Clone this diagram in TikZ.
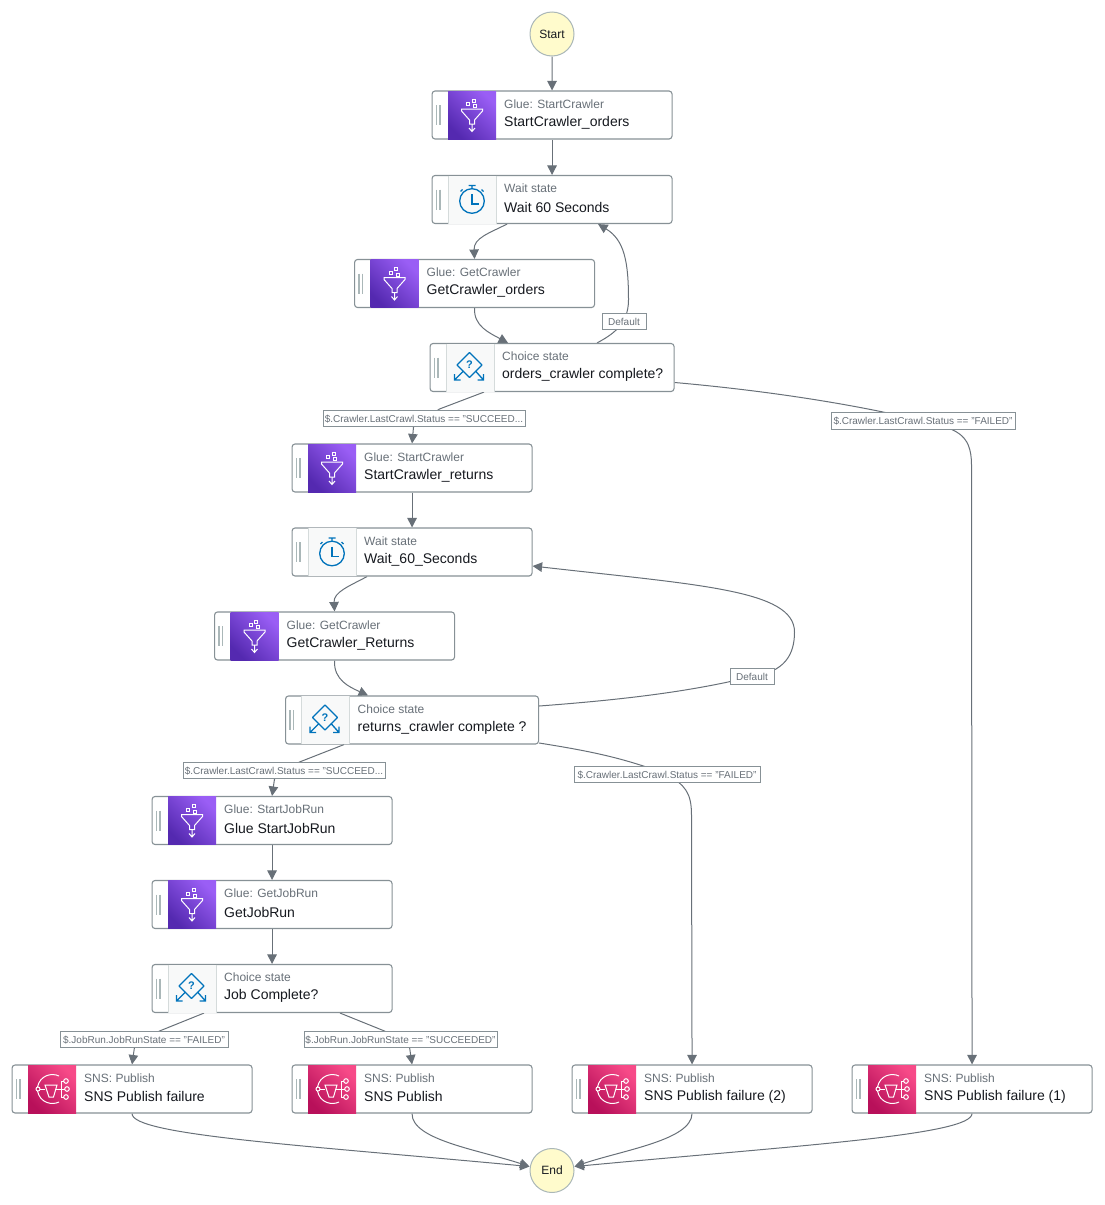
\documentclass[tikz,border=0pt]{standalone}
\usepackage{fontspec}
\setmainfont{Liberation Sans}
\usetikzlibrary{arrows.meta,calc,backgrounds}
\definecolor{lineC}{HTML}{687078}
\definecolor{boxC}{HTML}{879196}
\definecolor{titleC}{HTML}{687078}
\definecolor{mainC}{HTML}{16191F}
\definecolor{iconB}{HTML}{0073BB}
\definecolor{gripC}{HTML}{AAB7B8}
\definecolor{panelC}{HTML}{F8F9F9}
\definecolor{panelE}{HTML}{D5DBDB}
\definecolor{termF}{HTML}{FFFBCC}
\definecolor{termE}{HTML}{AAB7B8}
\definecolor{glueD}{HTML}{5429B0}
\definecolor{glueL}{HTML}{9A5EF5}
\definecolor{snsD}{HTML}{B8105A}
\definecolor{snsL}{HTML}{F74A88}
\tikzset{
  statebox/.style={draw=boxC,line width=1.1pt,rounded corners=3pt,fill=white,minimum height=48pt,inner sep=0pt,anchor=west},
  termnode/.style={circle,draw=termE,fill=termF,line width=1pt,minimum size=44pt,inner sep=0pt,font=\fontsize{12}{14}\selectfont,text=mainC},
  edgelabel/.style={draw=boxC,line width=1pt,fill=white,inner sep=0pt,minimum height=16.5pt,text depth=0pt,font=\fontsize{10}{11}\selectfont,text=titleC},
  titletext/.style={anchor=west,inner sep=0pt,font=\fontsize{12}{14}\selectfont,text=titleC},
  maintext/.style={anchor=west,inner sep=0pt,font=\fontsize{14}{16}\selectfont,text=mainC},
  conn/.style={draw=lineC,line width=1pt,-{Triangle[length=9.5pt,width=9.5pt]}},
  iconw/.style={draw=white,line width=1pt},
  iconb/.style={draw=iconB,line width=1.3pt},
}
\newcommand{\grip}{\draw[gripC,line width=1.2pt] (5,-10) -- (5,10) (8.5,-10) -- (8.5,10);}
\newcommand{\glueicon}{%
  \shade[bottom color=glueD,top color=glueL,shading angle=-45] (16.5,-24) rectangle (64.5,24);
  \begin{scope}[shift={(40.5,0)}]
    \draw[iconw] (-10.5,-6) -- (10.5,-6) -- (10.5,-4) -- (2.5,5) -- (2.5,9) -- (-2.5,9) -- (-2.5,5) -- (-10.5,-4) -- cycle;
    \draw[iconw] (0,9) -- (0,16) (-3,13) -- (0,16.5) -- (3,13);
    \draw[iconw,line width=.9pt] (-5.5,-12.5) rectangle (-2.5,-9.5) (0,-16) rectangle (3,-13) (1.5,-10.5) rectangle (4.5,-7.5);
  \end{scope}}
\newcommand{\waiticon}{%
  \fill[panelC] (16.5,-24) rectangle (64.5,24);
  \draw[panelE] (16.5,-24) -- (16.5,24) (64.5,-24) -- (64.5,24);
  \begin{scope}[shift={(40.5,1.5)}]
    \draw[iconb] (0,0) circle (12.3);
    \draw[iconb] (0,-12.5) -- (0,-15.5) (-3.5,-15.5) -- (3.5,-15.5) (9.5,-11.5) -- (11.5,-9.5);
    \draw[iconb] (-9.5,-11.5) -- (-11.5,-9.5);
    \draw[iconb] (0,-7) -- (0,3) -- (7,3);
  \end{scope}}
\newcommand{\choiceicon}{%
  \fill[panelC] (16.5,-24) rectangle (64.5,24);
  \draw[panelE] (16.5,-24) -- (16.5,24) (64.5,-24) -- (64.5,24);
  \begin{scope}[shift={(40,-2.5)}]
    \draw[iconb,line join=round] (0,-12.5) -- (12.5,0) -- (0,12.5) -- (-12.5,0) -- cycle;
    \node[inner sep=0pt,text=iconB,font=\bfseries\fontsize{11}{12}\selectfont] at (0,0) {?};
    \draw[iconb] (-6,6) -- (-15,15) (-15,9) -- (-15,15) -- (-9,15);
    \draw[iconb] (6,6) -- (14,15) (14,9) -- (14,15) -- (8,15);
  \end{scope}}
\newcommand{\snsicon}{%
  \shade[bottom color=snsD,top color=snsL,shading angle=-45] (16.5,-24) rectangle (64.5,24);
  \begin{scope}[shift={(40.5,0)}]
    \draw[iconw] (7,-13) .. controls (0,-16.5) and (-12,-14) .. (-14.5,-2);
    \draw[iconw] (-14.5,2) .. controls (-12,14) and (0,16.5) .. (7,13);
    \draw[iconw] (-14,0) circle (2);
    \draw[iconw] (-12,0) -- (-7,0);
    \draw[iconw] (-7,-4) -- (5,-4) -- (1.5,8) -- (-3,8) -- cycle;
    \draw[iconw] (4,0) -- (13,0) (9,-8) -- (12,-8) (9,8) -- (12,8) (9,-8) -- (9,8);
    \draw[iconw] (14,-8) circle (2.3) (15,0) circle (2.3) (14,8) circle (2.3);
  \end{scope}}
% name, left x, centre y, width, icon, title, text
\newcommand{\statenode}[7]{%
  \node[statebox,minimum width=#4pt] (#1) at (#2,#3) {};
  \begin{scope}[shift={(#1.west)}]
    \grip
    #5
  \end{scope}
  \node[titletext] (#1-title) at ($(#1.west)+(72.5,-11)$) {#6};
  \node[maintext] (#1-text) at ($(#1.west)+(72.5,7.5)$) {#7};}
\begin{document}
\begin{tikzpicture}[x=1pt,y=-1pt]
\useasboundingbox (0.5,0) rectangle (1104.5,1205);
\node[termnode] (start) at (552.5,34) {Start};
\node[termnode] (end) at (552.5,1170.5) {End};
\statenode{sco}{432}{115}{240}{\glueicon}{Glue: StartCrawler}{StartCrawler\_orders}
\statenode{wa}{432}{199.5}{240}{\waiticon}{Wait state}{Wait 60 Seconds}
\statenode{gco}{354.5}{283.5}{240}{\glueicon}{Glue: GetCrawler}{GetCrawler\_orders}
\statenode{cho}{430}{367.5}{244}{\choiceicon}{Choice state}{orders\_crawler complete?}
\statenode{scr}{292}{468}{240}{\glueicon}{Glue: StartCrawler}{StartCrawler\_returns}
\statenode{wb}{292}{552}{240}{\waiticon}{Wait state}{Wait\_60\_Seconds}
\statenode{gcr}{214.5}{636}{240}{\glueicon}{Glue: GetCrawler}{GetCrawler\_Returns}
\statenode{chr}{285.5}{720}{253}{\choiceicon}{Choice state}{returns\_crawler complete ?}
\statenode{sjr}{152}{820.5}{240}{\glueicon}{Glue: StartJobRun}{Glue StartJobRun}
\statenode{gjr}{152}{904.5}{240}{\glueicon}{Glue: GetJobRun}{GetJobRun}
\statenode{jc}{152}{988.5}{240}{\choiceicon}{Choice state}{Job Complete?}
\statenode{pf}{12}{1089}{240}{\snsicon}{SNS: Publish}{SNS Publish failure}
\statenode{ps}{292}{1089}{240}{\snsicon}{SNS: Publish}{SNS Publish}
\statenode{pf2}{572}{1089}{240}{\snsicon}{SNS: Publish}{SNS Publish failure (2)}
\statenode{pf1}{852}{1089}{240}{\snsicon}{SNS: Publish}{SNS Publish failure (1)}
\node[edgelabel,minimum width=44pt] (la) at (624.5,321.5) {Default};
\node[edgelabel,minimum width=202pt] (lb) at (424.5,418.5) {\$.Crawler.LastCrawl.Status == "SUCCEED...};
\node[edgelabel,minimum width=184pt] (lc) at (923.5,421) {\$.Crawler.LastCrawl.Status == "FAILED"};
\node[edgelabel,minimum width=44pt] (ld) at (752.5,676.5) {Default};
\node[edgelabel,minimum width=202pt] (le) at (284.5,770.5) {\$.Crawler.LastCrawl.Status == "SUCCEED...};
\node[edgelabel,minimum width=186pt] (lf) at (667.5,774.5) {\$.Crawler.LastCrawl.Status == "FAILED"};
\node[edgelabel,minimum width=168pt] (lg) at (144.5,1039.5) {\$.JobRun.JobRunState == "FAILED"};
\node[edgelabel,minimum width=193pt] (lh) at (401,1039.5) {\$.JobRun.JobRunState == "SUCCEEDED"};
\begin{scope}[on background layer]
\draw[conn] (start) -- (sco);
\draw[conn] (sco) -- (wa);
\draw[conn] ($(wa.south)+(-45,0)$) .. controls (490,233) and (474,238) .. (gco.north);
\draw[conn] (gco.south) .. controls (474,326) and (490,333) .. ($(cho.north)+(-44,0)$);
\draw[conn] ($(cho.north)+(45,0)$) .. controls (612,335) and (629,325) .. (629,300) .. controls (629,262) and (625,240) .. ($(wa.south)+(46,0)$);
\draw[conn] ($(cho.south)+(-68,0)$) -- (440,409) -- (414,427) -- (scr.north);
\draw[conn] ($(cho.east)+(0,15)$) .. controls (760,390) and (850,403) .. (lc.center) .. controls (955,429) and (972,432) .. (972,465) -- (pf1.north);
\draw[conn] (scr) -- (wb);
\draw[conn] ($(wb.south)+(-45,0)$) .. controls (350,586) and (334,592) .. (gcr.north);
\draw[conn] (gcr.south) .. controls (334,680) and (350,687) .. ($(chr.north)+(-44,0)$);
\draw[conn] ($(chr.east)+(0,-14)$) .. controls (620,700) and (690,692) .. (ld.center) .. controls (785,672) and (795,655) .. (795,632) .. controls (795,590) and (700,585) .. ($(wb.east)+(0,14)$);
\draw[conn] ($(chr.south)+(-68,0)$) -- (300,762) -- (275,779) -- (sjr.north);
\draw[conn] ($(chr.east)+(0,23)$) .. controls (590,751) and (625,758) .. (lf.center) .. controls (685,785) and (692,792) .. (692,815) -- (pf2.north);
\draw[conn] (sjr) -- (gjr);
\draw[conn] (gjr) -- (jc);
\draw[conn] ($(jc.south)+(-68,0)$) -- (160,1031) -- (135,1047) -- (pf.north);
\draw[conn] ($(jc.south)+(68,0)$) -- (385,1031) -- (410,1047) -- (ps.north);
\draw[conn] (pf.south) .. controls (132,1135) and (300,1145) .. ($(end.west)+(0,-4)$);
\draw[conn] (ps.south) .. controls (412,1140) and (480,1150) .. ($(end.west)+(0,-4)$);
\draw[conn] (pf2.south) .. controls (692,1140) and (624,1150) .. ($(end.east)+(0,-4)$);
\draw[conn] (pf1.south) .. controls (972,1135) and (804,1145) .. ($(end.east)+(0,-4)$);
\end{scope}
\end{tikzpicture}
\end{document}
